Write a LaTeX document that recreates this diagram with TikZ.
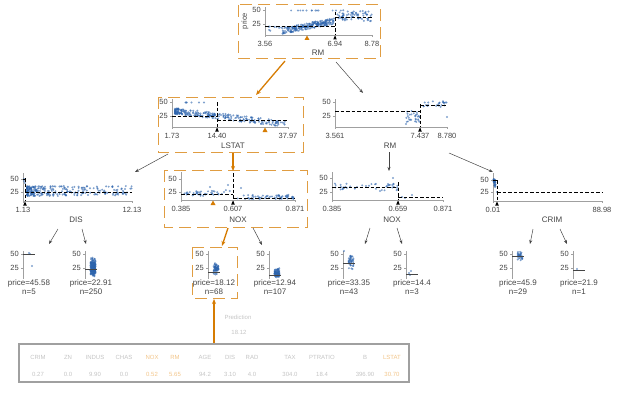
\documentclass[tikz,border=0pt]{standalone}
\usepackage{fontspec}
\setmainfont{Liberation Sans}
\usetikzlibrary{arrows.meta}

\definecolor{pathorange}{HTML}{D67C03}
\definecolor{dotblue}{HTML}{2C63AC}
\definecolor{txtgray}{HTML}{444444}
\definecolor{axisgray}{HTML}{A0A0A0}
\definecolor{tblgray}{HTML}{C4C4C4}
\definecolor{tblorange}{HTML}{F2C58A}

\begin{document}
\begin{tikzpicture}
  [
    x=1pt, y=-1pt,
    lbl/.style={font=\fontsize{7.5}{8}\selectfont, text=txtgray, inner sep=0},
    feat/.style={font=\fontsize{8}{9}\selectfont, text=txtgray, inner sep=0},
    tbl/.style={font=\fontsize{6}{7}\selectfont, inner sep=0},
    axisline/.style={draw=axisgray, line width=0.6pt},
    blueDot/.style={fill=dotblue, fill opacity=0.6},
    meanline/.style={black, line width=0.8pt, dash pattern=on 3.5pt off 2pt},
    leafmean/.style={draw=txtgray, line width=0.9pt},
    pathbox/.style={draw=pathorange!75, line width=1pt, dash pattern=on 12pt off 6pt},
    treeedge/.style={draw=txtgray, line width=0.5pt, -{Stealth[length=4pt,width=3pt]}},
    pathedge/.style={draw=pathorange, line width=1.3pt, -{Stealth[length=5pt,width=4pt]}},
  ]
    \useasboundingbox (0,0) rectangle (624,396);
    \pgfmathsetseed{17}

    % boxes along the path
    \draw[pathbox] (238,5) rectangle (380,59);
    \draw[pathbox] (158,97) rectangle (303,152);
    \draw[pathbox] (164,170) rectangle (307,227);
    \draw[pathbox] (192,247) rectangle (237,298);

    % axes of the split nodes
    \foreach \ax/\ay/\bx/\yf/\yq [count=\k] in {265/35/372/10/24, 172/127/288/102/116,
        335/127/447/102/116, 23/201/132/179/192, 181/200/295/179/192,
        332/200/443/178/192, 493/201/602/180/192} {
      \draw[axisline] (\ax,\ay-28) -- (\ax,\ay) -- (\bx,\ay);
      \draw[axisline] (\ax-2,\yf) -- (\ax,\yf) (\ax-2,\yq) -- (\ax,\yq);
      \node[lbl, anchor=east] (yf\k) at (\ax-4,\yf) {50};
      \node[lbl, anchor=east] (yq\k) at (\ax-4,\yq) {25};
    }
    \foreach \tx/\ty/\tt [count=\k] in {265/35/3.56, 335/35/6.94, 372/35/8.78,
        172/127/1.73, 217/127/14.40, 288/127/37.97,
        335/127/3.561, 420/127/7.437, 447/127/8.780,
        23/201/1.13, 132/201/12.13,
        181/200/0.385, 233/200/0.607, 295/200/0.871,
        332/200/0.385, 398/200/0.659, 443/200/0.871,
        493/201/0.01, 602/201/88.98} {
      \draw[axisline] (\tx,\ty) -- (\tx,\ty+2);
      \node[lbl] (xt\k) at (\tx,\ty+9) {\tt};
    }
    \node[lbl, rotate=90] (priceLbl) at (245,21) {price};

    % feature names
    \node[feat] (rootF) at (318,53) {RM};
    \node[feat] (lstatF) at (233,146) {LSTAT};
    \node[feat] (rmF) at (390,146) {RM};
    \node[feat] (disF) at (76,220) {DIS};
    \node[feat] (noxF) at (238,220) {NOX};
    \node[feat] (noxrF) at (392,220) {NOX};
    \node[feat] (crimF) at (552,220) {CRIM};

    % scatter RM (root)
    \foreach \i in {1,...,220} {
      \pgfmathsetmacro\u{rnd}
      \pgfmathsetmacro\px{282+52*\u}
      \pgfmathsetmacro\py{31-10*\u+3*rand}
      \fill[blueDot] (\px,\py) circle (1.1);
    }
    \foreach \i in {1,...,70} {
      \pgfmathsetmacro\px{336+36*rnd}
      \pgfmathsetmacro\py{18-4*rnd+4*rand}
      \fill[blueDot] (\px,\py) circle (1.1);
    }
    \foreach \i in {1,...,12} {
      \pgfmathsetmacro\px{290+80*rnd}
      \fill[blueDot] (\px,10.5) circle (1.1);
    }
    \foreach \i in {1,...,8} {
      \pgfmathsetmacro\px{268+14*rnd}
      \pgfmathsetmacro\py{29+4*rand}
      \fill[blueDot] (\px,\py) circle (1.1);
    }

    % scatter LSTAT
    \foreach \i in {1,...,260} {
      \pgfmathsetmacro\u{rnd}
      \pgfmathsetmacro\px{175+110*\u*\u}
      \pgfmathsetmacro\py{111+13*\u*\u+3*rand}
      \fill[blueDot] (\px,\py) circle (1.1);
    }
    \foreach \i in {1,...,6} {
      \pgfmathsetmacro\px{177+28*rnd}
      \fill[blueDot] (\px,102.5) circle (1.1);
    }

    % scatter RM (right)
    \foreach \i in {1,...,30} {
      \pgfmathsetmacro\px{405+15*rnd}
      \pgfmathsetmacro\py{116+6*rand}
      \fill[blueDot] (\px,\py) circle (1.1);
    }
    \foreach \i in {1,...,25} {
      \pgfmathsetmacro\px{421+26*rnd}
      \pgfmathsetmacro\py{104+3*rand}
      \fill[blueDot] (\px,\py) circle (1.1);
    }
    \fill[blueDot] (447,117) circle (1.1) (406,124) circle (1.1);

    % scatter DIS
    \foreach \i in {1,...,260} {
      \pgfmathsetmacro\u{rnd}
      \pgfmathsetmacro\px{27+105*\u*\u}
      \pgfmathsetmacro\py{191+5*rand}
      \fill[blueDot] (\px,\py) circle (1.1);
    }
    \fill[blueDot] (24,179) circle (1.2) (24,181) circle (1.2) (25,183) circle (1.2);

    % scatter NOX (path)
    \foreach \i in {1,...,40} {
      \pgfmathsetmacro\px{184+48*rnd}
      \pgfmathsetmacro\py{193+3*rand}
      \fill[blueDot] (\px,\py) circle (1.1);
    }
    \foreach \i in {1,...,60} {
      \pgfmathsetmacro\px{236+59*rnd}
      \pgfmathsetmacro\py{197+2.2*rand}
      \fill[blueDot] (\px,\py) circle (1.1);
    }
    \fill[blueDot] (210,187) circle (1.1) (228,185) circle (1.1) (241,188) circle (1.1);

    % scatter NOX (right)
    \foreach \i in {1,...,40} {
      \pgfmathsetmacro\px{334+64*rnd}
      \pgfmathsetmacro\py{187+3.5*rand}
      \fill[blueDot] (\px,\py) circle (1.1);
    }
    \fill[blueDot] (388,184) circle (1.1) (393,178) circle (1.1) (380,191) circle (1.1)
      (402,197) circle (1.1) (405,198) circle (1.1) (412,195) circle (1.1);

    % scatter CRIM
    \foreach \i in {1,...,29} {
      \pgfmathsetmacro\px{493.5+2*rnd}
      \pgfmathsetmacro\py{183+4*rand}
      \fill[blueDot] (\px,\py) circle (1.1);
    }
    \fill[blueDot] (497,192) circle (1.1);

    % split lines and means
    \draw[meanline] (335,12) -- (335,35) (265,26) -- (335,26) (335,17) -- (372,17);
    \draw[meanline] (217,102) -- (217,127) (172,116) -- (217,116) (217,120) -- (288,120);
    \draw[meanline] (420,104) -- (420,127) (335,111) -- (420,111) (420,105) -- (447,105);
    \draw[meanline] (25,178) -- (25,201) (23,179) -- (25,179) (25,192) -- (132,192);
    \draw[meanline] (233,173) -- (233,200) (181,194) -- (233,194) (233,198) -- (295,198);
    \draw[meanline] (398,182) -- (398,200) (332,187) -- (398,187) (398,197) -- (443,197);
    \draw[meanline] (497,180) -- (497,201) (493,180) -- (497,180) (497,192) -- (602,192);

    % split wedges
    \foreach \sx/\sy in {335/35, 217/127, 420/127, 25/201, 233/200, 398/200, 497/201}
      \fill[black] (\sx,\sy+0.5) -- (\sx-1.8,\sy+4.5) -- (\sx+1.8,\sy+4.5) -- cycle;
    % instance wedges
    \foreach \sx/\sy in {307/35, 265/127, 213/200}
      \fill[pathorange] (\sx,\sy+0.5) -- (\sx-2.5,\sy+5) -- (\sx+2.5,\sy+5) -- cycle;

    % leaves
    \foreach \ax/\my/\ptxt/\ntxt [count=\k] in {23/254/45.58/5, 85/269/22.91/250,
        208/272/18.12/68, 269/275/12.94/107, 343/263/33.35/43, 406/274/14.4/3,
        512/256/45.9/29, 573/270/21.9/1} {
      \draw[axisline] (\ax,251) -- (\ax,279);
      \draw[axisline] (\ax-2,254) -- (\ax,254) (\ax-2,268) -- (\ax,268);
      \node[lbl, anchor=east] (lf\k) at (\ax-4,254) {50};
      \node[lbl, anchor=east] (lq\k) at (\ax-4,268) {25};
      \node[feat, align=center] (leaf\k) at (\ax+6,287.5) {price=\ptxt\\n=\ntxt};
    }
    \foreach \ax/\my/\sy/\cnt in {85/267/10/200, 208/269/6/60, 269/273/5/90,
        343/262/8/40, 512/256/5/29} {
      \foreach \i in {1,...,\cnt} {
        \pgfmathsetmacro\px{\ax+8+2.5*rand}
        \pgfmathsetmacro\py{\my+\sy*(rand+rand)/2}
        \fill[blueDot] (\px,\py) circle (1.1);
      }
    }
    \fill[blueDot] (29,253) circle (1.1) (30,254) circle (1.1) (32,266) circle (1.1)
      (409,273) circle (1.1) (411,271) circle (1.1) (410,275) circle (1.1)
      (577,269) circle (1.1) (344,251) circle (1.1);
    \foreach \ax/\my in {23/254, 85/269, 208/272, 269/275, 343/263, 406/274, 512/256, 573/270}
      \draw[leafmean] (\ax,\my) -- (\ax+12,\my);

    % edges
    \coordinate (rootBL) at (285,61);   \coordinate (lstatTop) at (256,95);
    \coordinate (rootBR) at (336,62);   \coordinate (rmTop) at (363,93);
    \coordinate (lstatBL) at (168,154); \coordinate (disTop) at (135,172);
    \coordinate (lstatB) at (233,153);  \coordinate (noxTop) at (233,171);
    \coordinate (rmB) at (389,152);     \coordinate (noxrTop) at (389,171);
    \coordinate (rmBR) at (449,153);    \coordinate (crimTop) at (493,172);
    \coordinate (disBL) at (58,229);    \coordinate (leafTop1) at (49,244);
    \coordinate (disBR) at (82,229);    \coordinate (leafTop2) at (86,244);
    \coordinate (noxBL) at (228,228);   \coordinate (leafTop3) at (222,246);
    \coordinate (noxBR) at (253,228);   \coordinate (leafTop4) at (262,245);
    \coordinate (noxrBL) at (370,228);  \coordinate (leafTop5) at (365,244);
    \coordinate (noxrBR) at (397,228);  \coordinate (leafTop6) at (402,244);
    \coordinate (crimBL) at (533,229);  \coordinate (leafTop7) at (530,244);
    \coordinate (crimBR) at (560,229);  \coordinate (leafTop8) at (567,244);
    \coordinate (tableTop) at (214,344); \coordinate (leafBot3) at (214,299);

    \draw[pathedge] (rootBL) -- (lstatTop);
    \draw[treeedge] (rootBR) -- (rmTop);
    \draw[treeedge] (lstatBL) -- (disTop);
    \draw[pathedge] (lstatB) -- (noxTop);
    \draw[treeedge] (rmB) -- (noxrTop);
    \draw[treeedge] (rmBR) -- (crimTop);
    \draw[treeedge] (disBL) -- (leafTop1);
    \draw[treeedge] (disBR) -- (leafTop2);
    \draw[pathedge] (noxBL) -- (leafTop3);
    \draw[treeedge] (noxBR) -- (leafTop4);
    \draw[treeedge] (noxrBL) -- (leafTop5);
    \draw[treeedge] (noxrBR) -- (leafTop6);
    \draw[treeedge] (crimBL) -- (leafTop7);
    \draw[treeedge] (crimBR) -- (leafTop8);
    \draw[pathedge] (tableTop) -- (leafBot3);

    % prediction and instance
    \node[tbl, text=tblgray] (predLbl) at (238,317) {Prediction};
    \node[tbl, text=tblgray] (predVal) at (239,332) {18.12};
    \draw[draw=axisgray, line width=1.2pt] (19,344) rectangle (409,382);
    \foreach \cx/\nm/\val/\col [count=\k] in {38/CRIM/0.27/tblgray, 68/ZN/0.0/tblgray,
        95/INDUS/9.90/tblgray, 124/CHAS/0.0/tblgray, 152/NOX/0.52/tblorange,
        175/RM/5.65/tblorange, 205/AGE/94.2/tblgray, 230/DIS/3.10/tblgray,
        252/RAD/4.0/tblgray, 290/TAX/304.0/tblgray, 322/PTRATIO/18.4/tblgray,
        365/B/396.90/tblgray, 392/LSTAT/30.70/tblorange} {
      \node[tbl, text=\col] (fn\k) at (\cx,357) {\nm};
      \node[tbl, text=\col] (fv\k) at (\cx,374) {\val};
    }
  \end{tikzpicture}
\end{document}
